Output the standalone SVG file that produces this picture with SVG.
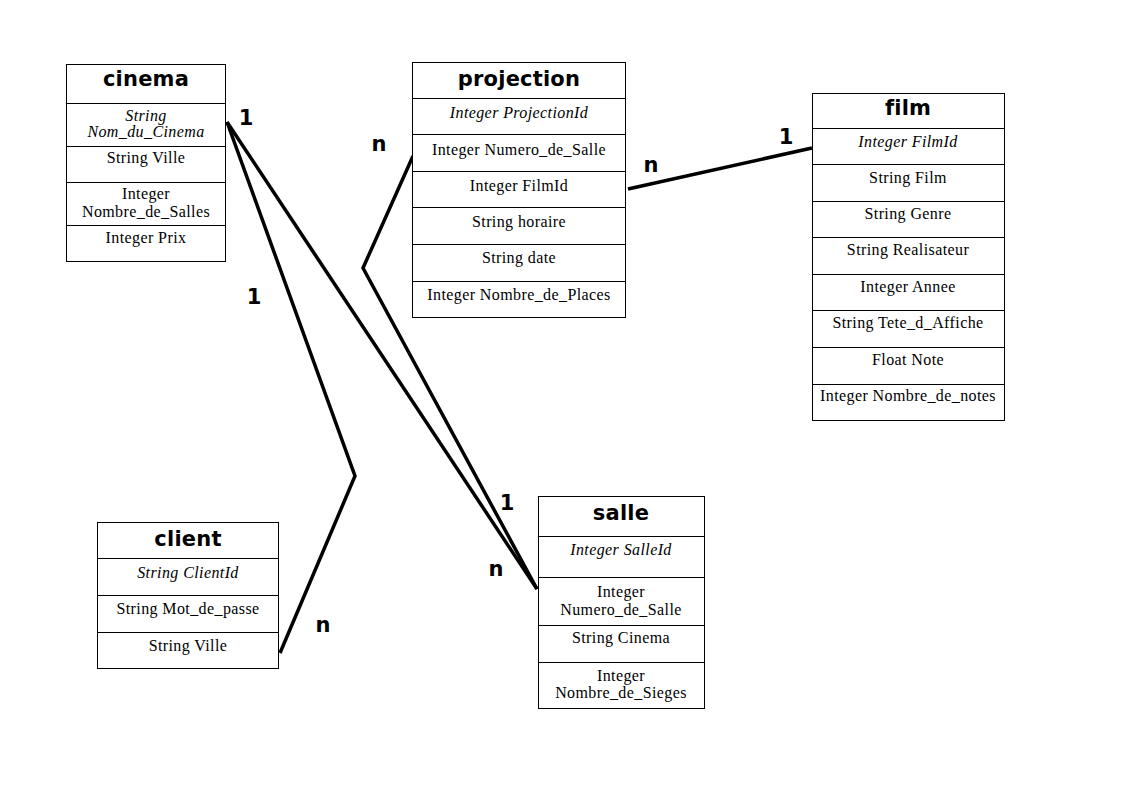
<svg xmlns="http://www.w3.org/2000/svg" width="1123" height="794" viewBox="0 0 1123 794">
<style>
.box{fill:#fff;stroke:#000;stroke-width:1}
.sep{stroke:#000;stroke-width:1}
.hd{font-family:"DejaVu Sans",sans-serif;font-weight:bold;font-size:21px;text-anchor:middle;fill:#000;letter-spacing:0.2px}
.at{font-family:"Liberation Serif",serif;font-size:16px;text-anchor:middle;fill:#000;letter-spacing:0.4px}
.it{font-style:italic}
.conn{fill:none;stroke:#000;stroke-width:3.5;stroke-linejoin:miter}
.lb{font-family:"DejaVu Sans",sans-serif;font-weight:bold;font-size:21px;text-anchor:middle;fill:#000}
</style>
<rect width="1123" height="794" fill="#fff"/>
<g id="connectors">
<polyline class="conn" points="227,122 537,589"/>
<polyline class="conn" points="413,156 363,268 537,589"/>
<polyline class="conn" points="227,122 355,476 280,653"/>
<polyline class="conn" points="628,189 812,148"/>
</g>
<g id="labels">
<text class="lb" x="246" y="125">1</text>
<text class="lb" x="379" y="151">n</text>
<text class="lb" x="651" y="172">n</text>
<text class="lb" x="786" y="144">1</text>
<text class="lb" x="254" y="304">1</text>
<text class="lb" x="323" y="632">n</text>
<text class="lb" x="507" y="510">1</text>
<text class="lb" x="496" y="576">n</text>
</g>
<g id="cinema">
<rect class="box" x="66.5" y="64.5" width="159" height="197"/>
<line class="sep" x1="66" y1="103.5" x2="226" y2="103.5"/>
<line class="sep" x1="66" y1="146.5" x2="226" y2="146.5"/>
<line class="sep" x1="66" y1="182.5" x2="226" y2="182.5"/>
<line class="sep" x1="66" y1="225.5" x2="226" y2="225.5"/>
<text class="hd" x="146" y="86">cinema</text>
<text class="at it" x="146" y="121">String</text>
<text class="at it" x="146" y="137">Nom_du_Cinema</text>
<text class="at" x="146" y="163">String Ville</text>
<text class="at" x="146" y="199">Integer</text>
<text class="at" x="146" y="217">Nombre_de_Salles</text>
<text class="at" x="146" y="243">Integer Prix</text>
</g>
<g id="projection">
<rect class="box" x="412.5" y="62.5" width="213" height="255"/>
<line class="sep" x1="412" y1="98.5" x2="626" y2="98.5"/>
<line class="sep" x1="412" y1="134.5" x2="626" y2="134.5"/>
<line class="sep" x1="412" y1="171.5" x2="626" y2="171.5"/>
<line class="sep" x1="412" y1="207.5" x2="626" y2="207.5"/>
<line class="sep" x1="412" y1="244.5" x2="626" y2="244.5"/>
<line class="sep" x1="412" y1="281.5" x2="626" y2="281.5"/>
<text class="hd" x="519" y="86">projection</text>
<text class="at it" x="519" y="118">Integer ProjectionId</text>
<text class="at" x="519" y="155">Integer Numero_de_Salle</text>
<text class="at" x="519" y="191">Integer FilmId</text>
<text class="at" x="519" y="227">String horaire</text>
<text class="at" x="519" y="263">String date</text>
<text class="at" x="519" y="300">Integer Nombre_de_Places</text>
</g>
<g id="film">
<rect class="box" x="812.5" y="93.5" width="192" height="327"/>
<line class="sep" x1="812" y1="128.5" x2="1005" y2="128.5"/>
<line class="sep" x1="812" y1="164.5" x2="1005" y2="164.5"/>
<line class="sep" x1="812" y1="201.5" x2="1005" y2="201.5"/>
<line class="sep" x1="812" y1="237.5" x2="1005" y2="237.5"/>
<line class="sep" x1="812" y1="274.5" x2="1005" y2="274.5"/>
<line class="sep" x1="812" y1="310.5" x2="1005" y2="310.5"/>
<line class="sep" x1="812" y1="347.5" x2="1005" y2="347.5"/>
<line class="sep" x1="812" y1="384.5" x2="1005" y2="384.5"/>
<text class="hd" x="908" y="115">film</text>
<text class="at it" x="908" y="147">Integer FilmId</text>
<text class="at" x="908" y="183">String Film</text>
<text class="at" x="908" y="219">String Genre</text>
<text class="at" x="908" y="255">String Realisateur</text>
<text class="at" x="908" y="292">Integer Annee</text>
<text class="at" x="908" y="328">String Tete_d_Affiche</text>
<text class="at" x="908" y="365">Float Note</text>
<text class="at" x="908" y="401">Integer Nombre_de_notes</text>
</g>
<g id="client">
<rect class="box" x="97.5" y="522.5" width="181" height="146"/>
<line class="sep" x1="97" y1="558.5" x2="279" y2="558.5"/>
<line class="sep" x1="97" y1="595.5" x2="279" y2="595.5"/>
<line class="sep" x1="97" y1="632.5" x2="279" y2="632.5"/>
<text class="hd" x="188" y="546">client</text>
<text class="at it" x="188" y="578">String ClientId</text>
<text class="at" x="188" y="614">String Mot_de_passe</text>
<text class="at" x="188" y="651">String Ville</text>
</g>
<g id="salle">
<rect class="box" x="538.5" y="496.5" width="166" height="212"/>
<line class="sep" x1="538" y1="536.5" x2="705" y2="536.5"/>
<line class="sep" x1="538" y1="577.5" x2="705" y2="577.5"/>
<line class="sep" x1="538" y1="625.5" x2="705" y2="625.5"/>
<line class="sep" x1="538" y1="662.5" x2="705" y2="662.5"/>
<text class="hd" x="621" y="520">salle</text>
<text class="at it" x="621" y="555">Integer SalleId</text>
<text class="at" x="621" y="597">Integer</text>
<text class="at" x="621" y="615">Numero_de_Salle</text>
<text class="at" x="621" y="643">String Cinema</text>
<text class="at" x="621" y="681">Integer</text>
<text class="at" x="621" y="698">Nombre_de_Sieges</text>
</g>
</svg>
